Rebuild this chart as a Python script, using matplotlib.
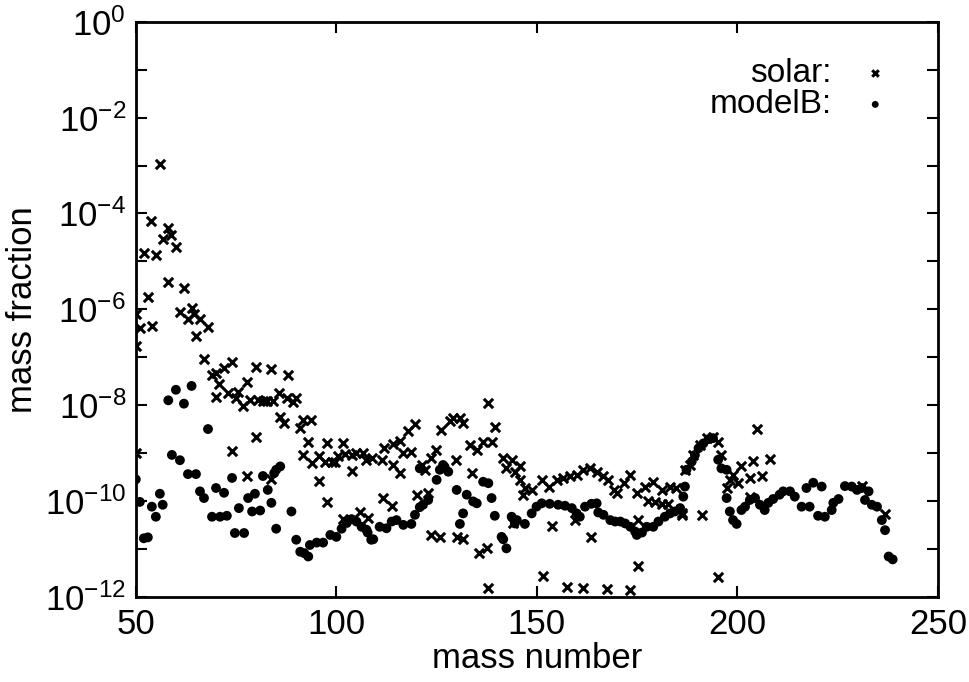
import numpy as np
import matplotlib
matplotlib.use("Agg")
import matplotlib.pyplot as plt

# ------------------------------------------------------------
# data (mass number, log10 mass fraction)
# ------------------------------------------------------------

solar_A = [
    56.0, 53.9, 58.0, 58.9, 56.8, 60.0, 52.0, 55.0, 58.0, 62.0,
    53.0, 50.0, 51.0, 54.0, 61.0, 64.0, 63.0, 66.0, 68.0, 65.0,
    50.0, 64.5, 67.0, 68.9, 70.0, 72.0, 73.9, 70.8, 70.0, 73.0,
    75.4, 75.1, 76.8, 77.8, 79.9, 83.8, 88.0, 78.4, 80.5, 81.7,
    82.6, 84.2, 85.7, 87.6, 89.1, 90.0, 85.9, 86.9, 91.7, 93.8,
    91.0, 50.0, 74.0, 80.0, 93.0, 97.6, 101.6, 91.7, 94.0, 95.7,
    97.1, 98.8, 99.6, 100.4, 102.1, 103.8, 105.0, 106.7, 107.5, 104.0,
    95.7, 97.6, 77.7, 83.8, 106.0, 101.6,
    137.9, 129.0, 130.8, 128.3, 131.5, 126.2, 139.5, 119.6, 117.8, 115.8,
    114.0, 112.0, 109.0, 111.3, 116.6, 118.7, 114.0, 115.8, 124.8, 123.7,
    121.3, 122.0, 129.8, 133.3, 135.0, 136.6, 138.7, 133.7, 141.6, 143.7,
    142.4, 144.5, 145.8, 111.7, 113.8, 120.0, 122.9, 108.0, 123.7, 125.8,
    130.0, 131.6, 135.6, 137.6, 137.9, 144.0,
    145.8, 147.0, 146.6, 148.7, 151.2, 152.9, 155.0, 156.6, 158.3, 159.9,
    161.6, 163.3, 164.9, 166.6, 167.8, 169.1, 169.9, 171.6, 173.2, 174.9,
    176.9, 179.0, 181.1, 183.2, 184.8, 177.6, 179.4, 181.1, 182.8, 186.9,
    188.2, 186.3, 153.7, 159.5, 163.4, 175.3, 175.3, 151.6, 157.6, 161.4,
    167.4, 173.2,
    189.0, 190.6, 192.3, 193.9, 195.2, 196.0, 204.9, 208.1, 204.0, 201.0,
    198.9, 198.1, 200.2, 203.1, 206.0, 197.3, 203.1, 191.1, 186.1, 231.0,
    236.8, 195.2,
]
solar_logX = [
    -2.96, -4.16, -4.30, -4.45, -4.54, -4.70, -4.82, -4.86, -5.43, -5.56,
    -5.74, -6.10, -6.40, -6.35, -6.05, -5.97, -6.20, -6.20, -6.37, -6.55,
    -6.76, -6.10, -7.04, -7.37, -7.33, -7.23, -7.09, -7.56, -7.84, -7.75,
    -7.72, -7.86, -8.02, -7.51, -7.20, -7.25, -7.37, -7.89, -7.89, -7.92,
    -7.92, -7.92, -7.75, -7.86, -7.93, -7.86, -8.24, -8.38, -8.31, -8.31,
    -8.48, -9.00, -8.96, -8.66, -8.77, -8.79, -8.79, -9.04, -9.20, -9.06,
    -9.18, -9.18, -9.18, -9.07, -9.02, -9.04, -9.00, -9.00, -9.14, -9.37,
    -9.58, -10.02, -9.48, -9.54, -10.23, -10.38,
    -7.95, -8.27, -8.27, -8.34, -8.37, -8.52, -8.45, -8.39, -8.53, -8.74,
    -8.81, -8.89, -9.10, -9.14, -9.00, -8.97, -9.25, -9.42, -8.94, -9.10,
    -9.25, -9.35, -9.14, -8.83, -8.94, -8.76, -8.76, -9.42, -9.10, -9.14,
    -9.31, -9.39, -9.56, -9.94, -10.10, -9.87, -9.84, -10.35, -10.71, -10.75,
    -10.75, -10.80, -11.09, -10.99, -11.82, -10.47,
    -9.27, -9.73, -9.87, -9.77, -9.56, -9.70, -9.56, -9.53, -9.49, -9.46,
    -9.35, -9.32, -9.39, -9.49, -9.56, -9.77, -9.84, -9.63, -9.46, -9.84,
    -9.70, -9.60, -9.77, -9.70, -9.73, -10.01, -10.03, -10.06, -10.06, -9.35,
    -9.25, -10.26, -10.52, -10.40, -10.76, -10.40, -11.36, -11.57, -11.80, -11.82,
    -11.84, -11.86,
    -9.04, -8.83, -8.69, -8.66, -8.76, -9.04, -8.50, -9.13, -9.16, -9.28,
    -9.46, -9.56, -9.63, -9.53, -9.48, -9.73, -9.91, -10.29, -10.29, -9.69,
    -10.27, -11.58,
]

model_A = [
    58.1, 60.0, 62.0, 63.9, 68.0, 59.0, 61.0, 63.0, 65.0, 50.0,
    66.0, 67.0, 70.0, 72.0, 74.0, 56.0, 56.7, 54.0, 55.0, 51.0,
    69.0, 71.0, 72.7, 74.7, 52.0, 53.0,
    81.7, 84.5, 85.0, 86.0, 82.9, 79.7, 78.0, 75.7, 79.0, 81.0,
    83.8, 88.8, 77.0, 85.0, 90.0, 91.0, 92.0, 93.0, 93.4, 95.1,
    96.7, 98.5, 100.0, 101.3, 102.6, 103.8, 105.0, 106.3, 107.8, 108.7,
    126.6, 125.8, 127.9, 125.0, 127.0, 120.8, 136.6, 137.9, 130.0, 132.5,
    134.1, 135.0, 138.7, 122.9, 121.6, 120.8, 119.6, 131.6, 130.8, 139.5,
    143.7, 144.5, 141.2, 141.6, 142.4, 118.7, 116.7, 115.0, 113.8, 112.5,
    110.8, 109.2, 107.5,
    145.0, 147.0, 148.7, 149.9, 151.2, 153.2, 155.3, 157.0, 158.7, 159.9,
    160.7, 162.0, 163.6, 164.9, 165.3, 166.6, 168.3, 169.5, 170.8, 172.0,
    173.3, 174.5, 174.9, 176.2, 177.4, 179.0, 180.3, 181.9, 183.2, 184.4,
    185.7, 186.5, 186.9,
    187.3, 188.6, 189.4, 190.3, 191.5, 192.8, 193.9, 195.2, 196.0, 197.3,
    197.3, 198.1, 198.9, 199.8, 201.0, 201.9, 203.1, 204.4, 205.6, 206.8,
    207.7, 208.9, 210.5, 211.4, 213.1, 214.3, 216.0, 217.2, 218.9, 221.0,
    218.0, 220.1, 221.8, 223.5, 223.9, 225.2, 226.8, 228.5, 229.8, 231.0,
    232.7, 231.8, 233.5, 234.8, 236.0, 236.8, 237.7, 238.7,
]
model_logX = [
    -7.90, -7.68, -7.97, -7.60, -8.50, -9.04, -9.15, -9.44, -9.44, -9.55,
    -9.80, -9.94, -9.73, -9.83, -9.52, -9.85, -10.08, -10.12, -10.33, -10.02,
    -10.33, -10.33, -10.31, -10.67, -10.78, -10.76,
    -9.48, -9.42, -9.35, -9.28, -9.77, -9.85, -9.94, -10.15, -10.22, -10.20,
    -10.04, -10.22, -10.67, -10.58, -10.81, -11.06, -11.09, -11.16, -10.92, -10.87,
    -10.87, -10.71, -10.75, -10.58, -10.46, -10.38, -10.43, -10.54, -10.66, -10.81,
    -9.25, -9.35, -9.39, -9.56, -9.29, -9.32, -9.60, -9.63, -9.77, -9.87,
    -10.01, -10.05, -9.94, -9.98, -10.08, -10.13, -10.29, -10.26, -10.48, -10.31,
    -10.33, -10.47, -10.75, -10.80, -10.99, -10.48, -10.50, -10.40, -10.43, -10.57,
    -10.54, -10.80, -10.60,
    -10.40, -10.48, -10.26, -10.12, -10.05, -10.06, -10.08, -10.10, -10.15, -10.26,
    -10.33, -10.12, -10.06, -10.05, -10.24, -10.29, -10.40, -10.43, -10.43, -10.47,
    -10.54, -10.64, -10.71, -10.66, -10.54, -10.54, -10.43, -10.33, -10.26, -10.22,
    -10.15, -9.91, -9.70,
    -9.35, -9.18, -9.04, -8.90, -8.80, -8.71, -8.69, -9.14, -9.32, -9.35,
    -9.94, -10.22, -10.40, -10.48, -10.19, -10.12, -9.98, -9.94, -10.08, -10.19,
    -10.04, -9.96, -9.87, -9.80, -9.80, -9.91, -10.12, -9.73, -9.62, -9.70,
    -10.12, -10.31, -10.33, -10.19, -10.04, -9.96, -9.69, -9.70, -9.77, -9.73,
    -9.80, -9.98, -10.08, -10.12, -10.40, -10.61, -11.16, -11.22,
]

plt.rcParams['font.family'] = ['Liberation Sans Narrow', 'Liberation Sans', 'DejaVu Sans']
plt.rcParams['mathtext.default'] = 'regular'

fig = plt.figure(figsize=(9.7, 6.82), dpi=100)
ax = fig.add_axes([0.140, 0.125, 0.827, 0.843])

ax.scatter(solar_A, 10.0 ** np.array(solar_logX), marker='x', s=45,
           linewidths=2.2, color='black', label='solar:', zorder=3)
ax.scatter(model_A, 10.0 ** np.array(model_logX), marker='o', s=50,
           color='black', edgecolors='none', label='modelB:', zorder=3)

ax.set_yscale('log')
ax.set_xlim(50, 250)
ax.set_ylim(1e-12, 1)

ax.set_xticks([50, 100, 150, 200, 250])
ax.set_xticklabels(['50', '100', '150', '200', '250'])
exps = list(range(0, -13, -1))
ax.set_yticks([10.0 ** e for e in exps])
ax.set_yticklabels([r'$\mathdefault{10^{%d}}$' % e if e % 2 == 0 else '' for e in exps])
ax.minorticks_off()

ax.tick_params(direction='in', length=8, width=1.5, top=True, right=True,
               labelsize=25)
ax.tick_params(axis='x', pad=8)
ax.tick_params(axis='y', pad=7)
for sp in ax.spines.values():
    sp.set_linewidth(2)

ax.set_xlabel('mass number', fontsize=25, labelpad=1)
ax.set_ylabel('mass fraction', fontsize=25, labelpad=4)

leg = ax.legend(loc='upper right', bbox_to_anchor=(0.955, 0.96), frameon=False,
                fontsize=24, markerfirst=False, handletextpad=0.9,
                labelspacing=0.0, borderaxespad=0.0, handlelength=0.8,
                markerscale=0.7)
for t in leg.get_texts():
    t.set_ha('right')

fig.savefig('out.png', dpi=100)
